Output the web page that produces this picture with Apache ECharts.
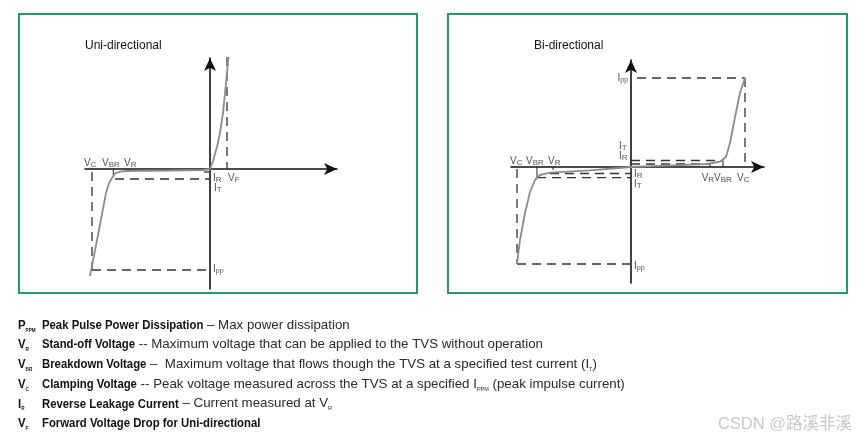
<!DOCTYPE html>
<html>
<head>
<meta charset="utf-8">
<script src="https://cdn.jsdelivr.net/npm/echarts@6/dist/echarts.min.js"></script>
<style>
  html, body { margin: 0; padding: 0; background: #fff; }
  #main { width: 866px; height: 442px; }
</style>
</head>
<body>
<div id="main"></div>
<script>
// I-V curves, units (origin = axis crossing)
const uniCurve = [[-120, -107], [-112, -66], [-104, -24], [-101, -14], [-98, -9], [-95, -4.5], [-90, -2.6], [-84, -2], [-40, -1.5], [-7, -1], [0, 0], [3, 8], [7, 22], [10, 36], [13, 56], [16, 86], [18.5, 112]];
const biCurve = [[-114, -97], [-111, -73], [-106, -46], [-101, -25], [-96, -13], [-91, -8], [-81, -5.7], [-41, -3.3], [0, 0], [42, 1.7], [76, 3], [89, 5.3], [95, 10], [99, 24], [104, 50], [109, 74], [114, 89]];

// dashed guide lines [from, to]
const uniGuides = [
  [[-118, -3], [-118, -101]], [[-118, -101], [-3, -101]],
  [[-95, -10], [-1, -10]], [[-6, -3], [-1, -3]],
  [[17, 112], [17, 0]]
];
const biGuides = [
  [[6, 89], [114, 89]], [[114, 89], [114, 0]],
  [[0, 6.5], [92, 6.5]], [[0, 3], [79, 3]],
  [[-81, -6.5], [0, -6.5]], [[-94, -10.7], [0, -10.7]],
  [[-114, -2], [-114, -97]], [[-114, -97], [-1, -97]]
];
// small solid ticks at VBR / VR
const uniTicks = [[[-96.7, 0], [-96.7, -8]], [[-80.7, 0], [-80.7, -3]]];
const biTicks = [[[-94, 0], [-94, -11]], [[-78, 0], [-78, -3]], [[92, 0], [92, 6.5]], [[79, 0], [79, 3]]];

// point labels: [main, sub, x, y, align]
const uniLabels = [
  ['V', 'C', -126, 0, 'left'], ['V', 'BR', -108, 0, 'left'], ['V', 'R', -86, 0, 'left'],
  ['I', 'R', 3, -15, 'left'], ['V', 'F', 18, -15, 'left'], ['I', 'T', 4, -25, 'left'],
  ['I', 'pp', 3, -106, 'left']
];
const biLabels = [
  ['V', 'C', -121, 0, 'left'], ['V', 'BR', -105, 0, 'left'], ['V', 'R', -83, 0, 'left'],
  ['I', 'T', -12, 15, 'left'], ['I', 'R', -12, 5, 'left'], ['I', 'pp', -13.5, 83, 'left'],
  ['I', 'R', 3, -13, 'left'], ['I', 'T', 3, -23, 'left'],
  ['V', 'R', 70.7, -17, 'left'], ['V', 'BR', 83, -17, 'left'], ['V', 'C', 106, -17, 'left'],
  ['I', 'pp', 3, -105, 'left']
];

const panelTitles = ['Uni-directional', 'Bi-directional'];

// definitions under the chart
const legendSymbols = [['P', 'PPM'], ['V', 'R'], ['V', 'BR'], ['V', 'C'], ['I', 'R'], ['V', 'F']];
const legendTerms = ['Peak Pulse Power Dissipation', 'Stand-off Voltage', 'Breakdown Voltage', 'Clamping Voltage', 'Reverse Leakage Current', 'Forward Voltage Drop for Uni-directional'];
const legendNotes = [
  '{r| – Max power dissipation}',
  '{r| -- Maximum voltage that can be applied to the TVS without operation}',
  '{r| –  Maximum voltage that flows though the TVS at a specified test current (I}{s|T}{r|)}',
  '{r| -- Peak voltage measured across the TVS at a specified I}{s|PPM}{r| (peak impulse current)}',
  '{r| – Current measured at V}{s|R}',
  ''
];

const chart = echarts.init(document.getElementById('main'));

const axisColor = '#111';
const sans = "'Liberation Sans', Arial, sans-serif";
const boldSize = 13.5;
const squeeze = 0.84;

// measure condensed bold terms so the note can follow right after
const measureCtx = document.createElement('canvas').getContext('2d');
measureCtx.font = 'bold ' + boldSize + 'px ' + sans;

function makeAxis(idx, min, max) {
  return {
    type: 'value', gridIndex: idx, min: min, max: max,
    axisLine: { onZero: true, symbol: ['none', 'arrow'], symbolSize: [9, 13], lineStyle: { color: axisColor, width: 1.6 } },
    axisTick: { show: false }, axisLabel: { show: false }, splitLine: { show: false }
  };
}

function segSeries(idx, segs, style) {
  return segs.map(function (s) {
    return {
      type: 'line', xAxisIndex: idx, yAxisIndex: idx, data: s, symbol: 'none',
      clip: false, silent: true, animation: false, lineStyle: style, z: 3
    };
  });
}

const labelRich = {
  m: { fontSize: 10, lineHeight: 11, color: '#1c1c2c', fontFamily: sans },
  s: { fontSize: 8, lineHeight: 9, color: '#1c1c2c', fontFamily: sans, verticalAlign: 'bottom' },
  p: { fontSize: 7, lineHeight: 7, color: '#1c1c2c', fontFamily: sans, verticalAlign: 'bottom' }
};

function labelSeries(idx, items) {
  return {
    type: 'scatter', xAxisIndex: idx, yAxisIndex: idx, symbolSize: 0, clip: false, silent: true, animation: false,
    data: items.map(function (d) {
      const sub = d[1] === 'pp' ? '{p|pp}' : '{s|' + d[1] + '}';
      return {
        value: [d[2], d[3]],
        label: { show: true, position: [0, 0], align: d[4], verticalAlign: 'bottom', formatter: '{m|' + d[0] + '}' + sub, rich: labelRich }
      };
    })
  };
}

const curveStyle = { color: '#8c8c8c', width: 1.8 };
const guideStyle = { color: '#333', width: 1.3, type: [9, 6] };
const tickStyle = { color: '#222', width: 1 };

const series = []
  .concat(segSeries(0, uniGuides, guideStyle))
  .concat(segSeries(1, biGuides, guideStyle))
  .concat(segSeries(0, uniTicks, tickStyle))
  .concat(segSeries(1, biTicks, tickStyle))
  .concat(segSeries(0, [uniCurve], curveStyle))
  .concat(segSeries(1, [biCurve], curveStyle))
  .concat([labelSeries(0, uniLabels), labelSeries(1, biLabels)]);

const graphic = [
  { type: 'rect', shape: { x: 19, y: 14, width: 398, height: 279 }, style: { fill: 'none', stroke: '#239b62', lineWidth: 2 }, silent: true },
  { type: 'rect', shape: { x: 448, y: 14, width: 399, height: 279 }, style: { fill: 'none', stroke: '#239b62', lineWidth: 2 }, silent: true },
  { type: 'text', x: 852, y: 424, silent: true, style: { text: 'CSDN @路溪非溪', fill: '#c8c8c8', fontSize: 16.5, fontFamily: "'Liberation Sans', 'Noto Sans CJK SC', sans-serif", align: 'right', verticalAlign: 'middle' } }
];

const legendRich = {
  b: { fontFamily: sans, fontWeight: 'bold', fontSize: boldSize, fill: '#111', lineHeight: 16 },
  r: { fontFamily: sans, fontSize: 13.3, fill: '#2a2a2a', lineHeight: 16 },
  s: { fontFamily: sans, fontSize: 5.5, fill: '#2a2a2a', lineHeight: 6, verticalAlign: 'bottom' },
  t: { fontFamily: sans, fontWeight: 'bold', fontSize: 5.5, fill: '#111', lineHeight: 6, verticalAlign: 'bottom' }
};

legendTerms.forEach(function (term, i) {
  const y = 325 + i * 19.7;
  const termWidth = measureCtx.measureText(term).width * squeeze;
  graphic.push({
    type: 'text', x: 18, y: y, scaleX: squeeze, silent: true,
    style: { text: '{b|' + legendSymbols[i][0] + '}{t|' + legendSymbols[i][1] + '}', rich: legendRich, verticalAlign: 'middle' }
  });
  graphic.push({
    type: 'text', x: 42, y: y, scaleX: squeeze, silent: true,
    style: { text: '{b|' + term + '}', rich: legendRich, verticalAlign: 'middle' }
  });
  if (legendNotes[i]) {
    graphic.push({
      type: 'text', x: 42 + termWidth, y: y, silent: true,
      style: { text: legendNotes[i], rich: legendRich, verticalAlign: 'middle' }
    });
  }
});

chart.setOption({
  animation: false,
  backgroundColor: '#fff',
  title: panelTitles.map(function (t, i) {
    return { text: t, left: i === 0 ? 80 : 529, top: 35, textStyle: { fontSize: 12, fontWeight: 'normal', color: '#111', fontFamily: sans } };
  }),
  grid: [
    { left: 85, top: 58, width: 252, height: 231 },
    { left: 511, top: 60, width: 253, height: 223 }
  ],
  xAxis: [makeAxis(0, -125, 127), makeAxis(1, -120, 133)],
  yAxis: [makeAxis(0, -120, 111), makeAxis(1, -116, 107)],
  graphic: graphic,
  series: series
});
</script>
</body>
</html>
